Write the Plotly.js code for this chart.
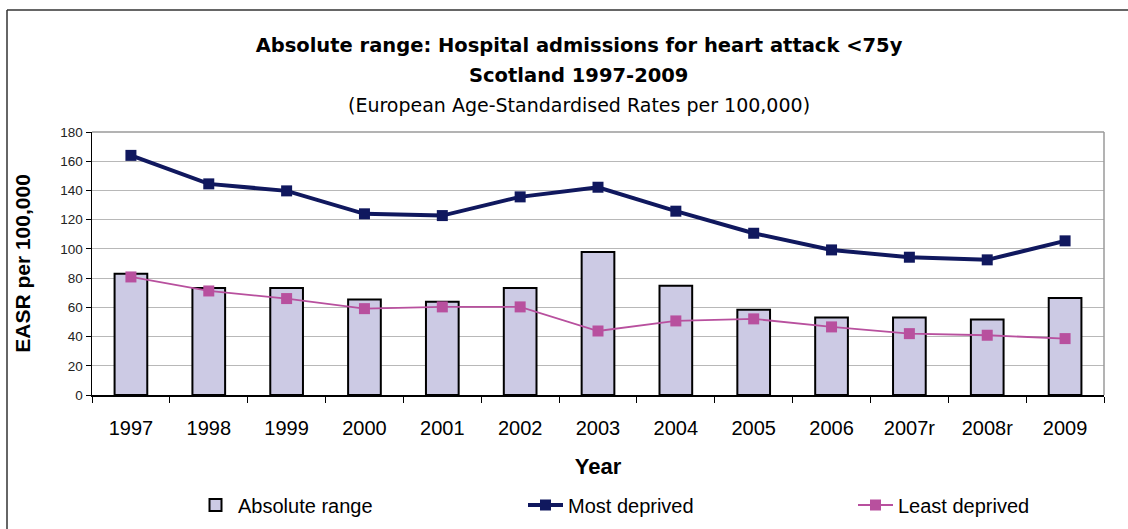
<!DOCTYPE html>
<html><head><meta charset="utf-8">
<script src="https://cdn.plot.ly/plotly-3.0.1.min.js"></script>
<style>html,body{margin:0;padding:0;background:#fff}#chart{width:1128px;height:529px}</style>
</head><body><div id="chart"></div>
<script>
const years = ['1997','1998','1999','2000','2001','2002','2003','2004','2005','2006','2007r','2008r','2009'];
const absoluteRange = [82.9,73.3,73.3,65.3,63.9,73.3,97.9,74.7,58.4,53.0,53.0,51.6,66.4];
const mostDeprived = [164.0,144.5,139.7,124.0,122.8,135.6,142.2,125.8,110.7,99.3,94.3,92.5,105.5];
const leastDeprived = [80.8,71.2,66.0,59.1,60.3,60.3,43.8,50.7,52.1,46.6,42.0,40.9,38.6];
const yTicks = [0,20,40,60,80,100,120,140,160,180];

const arial = 'Liberation Sans, Arial, sans-serif';

const traces = [
  {type:'bar', name:'Absolute range', x:years, y:absoluteRange, width:0.42,
   marker:{color:'#cccae4', line:{color:'#000000', width:2}}, hoverinfo:'x+y'},
  {type:'scatter', mode:'lines+markers', name:'Most deprived', x:years, y:mostDeprived,
   line:{color:'#10185e', width:4}, marker:{symbol:'square', size:11, color:'#10185e'}},
  {type:'scatter', mode:'lines+markers', name:'Least deprived', x:years, y:leastDeprived,
   line:{color:'#b8509e', width:1.8}, marker:{symbol:'square', size:11, color:'#b8509e'}}
];

const layout = {
  width:1128, height:529,
  margin:{l:92, r:24, t:132, b:134, autoexpand:false},
  paper_bgcolor:'#ffffff', plot_bgcolor:'#ffffff',
  showlegend:true,
  title:{text:'Absolute range: Hospital admissions for heart attack <75y',
         font:{family:'DejaVu Sans, sans-serif', size:19.5, color:'#000', weight:'bold'},
         xref:'container', x:0.5133, xanchor:'center', yref:'container', y:1-45/529, yanchor:'middle'},
  annotations:[
    {text:'Scotland 1997-2009', xref:'paper', yref:'paper', x:0.4812, y:(395-75)/263,
     xanchor:'center', yanchor:'middle', showarrow:false,
     font:{family:'DejaVu Sans, sans-serif', size:19.5, color:'#000', weight:'bold'}},
    {text:'(European Age-Standardised Rates per 100,000)', xref:'paper', yref:'paper', x:0.4812, y:(395-105)/263,
     xanchor:'center', yanchor:'middle', showarrow:false,
     font:{family:'DejaVu Sans, sans-serif', size:19, color:'#000'}}
  ],
  xaxis:{type:'category', range:[-0.5, years.length-0.5], autorange:false, automargin:false,
         tickson:'boundaries', ticks:'outside', ticklen:6, tickcolor:'#000', tickwidth:1,
         showline:true, linecolor:'#000', linewidth:1.5, showgrid:false, zeroline:false,
         tickfont:{family:arial, size:20, color:'#000'}, ticklabelstandoff:14,
         title:{text:'Year', font:{family:arial, size:22, color:'#000', weight:'bold'}, standoff:21}},
  yaxis:{range:[0,180], autorange:false, automargin:false, tickvals:yTicks, ticks:'outside', ticklen:5, tickcolor:'#000', tickwidth:1,
         showline:true, linecolor:'#000', linewidth:1.5, showgrid:true, gridcolor:'#b8b8b8', gridwidth:1,
         zeroline:false, tickfont:{family:arial, size:13.5, color:'#222'},
         title:{text:'EASR per 100,000', font:{family:arial, size:21, color:'#000', weight:'bold'}, standoff:24}},
  legend:{orientation:'h', x:(193-92)/1012, xanchor:'left', y:(395-505)/263, yanchor:'middle',
          entrywidth:280, entrywidthmode:'pixels', itemwidth:35,
          font:{family:arial, size:20, color:'#000'}, bgcolor:'rgba(0,0,0,0)'},
  shapes:[
    {type:'line', xref:'paper', yref:'paper', x0:0, x1:1, y0:1, y1:1, line:{color:'#9a9a9a', width:1.5}},
    {type:'line', xref:'paper', yref:'paper', x0:1, x1:1, y0:0, y1:1, line:{color:'#9a9a9a', width:1.5}},
    {type:'line', xref:'paper', yref:'paper', x0:(7-92)/1012, x1:1.1, y0:(395-10)/263, y1:(395-10)/263, line:{color:'#333', width:1.5}},
    {type:'line', xref:'paper', yref:'paper', x0:(7-92)/1012, x1:(7-92)/1012, y0:(395-10)/263, y1:-1, line:{color:'#333', width:1.5}}
  ]
};

Plotly.newPlot('chart', traces, layout, {displayModeBar:false, staticPlot:true});
</script></body></html>
